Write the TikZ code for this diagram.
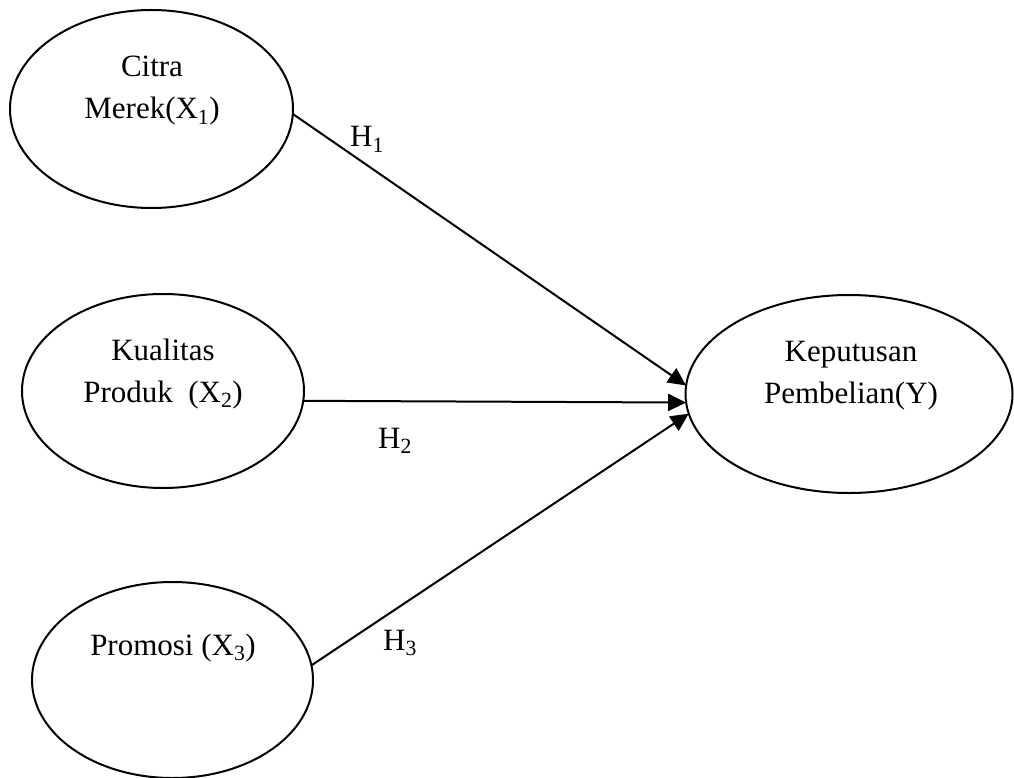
\documentclass[tikz,border=0pt]{standalone}
\usepackage{fontspec}
\setmainfont{Liberation Serif}
\usetikzlibrary{arrows.meta,shapes.geometric}
\begin{document}
\begin{tikzpicture}[x=1pt,y=-1pt,
  var/.style={draw,ellipse,line width=2pt,inner sep=0pt,outer sep=0pt},
  lbl/.style={font=\fontsize{31}{42}\selectfont,align=center,inner sep=0pt,anchor=base},
  hyp/.style={font=\fontsize{31}{42}\selectfont,inner sep=0pt,anchor=base},
  link/.style={line width=2pt,-{Triangle[length=18pt,width=17pt]}}]
\useasboundingbox (0,0) rectangle (1014,778);
\node[var,minimum width=283pt,minimum height=198pt] (e1) at (151.5,109) {};
\node[var,minimum width=282pt,minimum height=194pt] (e2) at (163,391) {};
\node[var,minimum width=281pt,minimum height=196pt] (e3) at (172.5,680) {};
\node[var,minimum width=327pt,minimum height=198pt] (e4) at (849,394) {};
\node[lbl] (t1) at (152,119) {Citra\\Merek(X\textsubscript{1})};
\node[lbl] (t2) at (163,402) {Kualitas\\Produk~~(X\textsubscript{2})};
\node[lbl] (t3) at (173,655) {Promosi (X\textsubscript{3})};
\node[lbl] (t4) at (851,403) {Keputusan\\Pembelian(Y)};
\node[hyp] (h1) at (367,147) {H\textsubscript{1}};
\node[hyp] (h2) at (395,448) {H\textsubscript{2}};
\node[hyp] (h3) at (400,650) {H\textsubscript{3}};
\draw[link] (e1.-2.4) -- (e4.177.2);
\draw[link] (e2.-4) -- (e4.183.1);
\draw[link] (e3.6.9) -- (e4.187.3);
\end{tikzpicture}
\end{document}
